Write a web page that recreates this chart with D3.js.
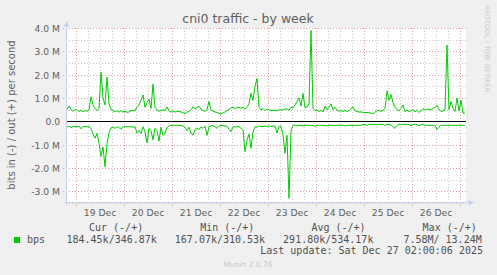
<!DOCTYPE html>
<html>
<head>
<meta charset="utf-8">
<script src="https://cdn.jsdelivr.net/npm/d3@7"></script>
<style>
	body { margin: 0; background: #F0F0F0; }
	svg { display: block; }
	text { font-family: "DejaVu Sans", sans-serif; fill: #606060; }
	.mono { font-family: "DejaVu Sans Mono", monospace; fill: #505050; font-size: 10px; white-space: pre; }
</style>
</head>
<body>
<svg id="chart" width="497" height="275"></svg>
<script>
// hourly samples, Mbit/s, first one at Dec 18 19:00
var startTime = Date.UTC(2025, 11, 18, 19);
var outBps = [
	0.51, 0.66, 0.51, 0.43, 0.49, 0.5, 0.41, 0.49, 0.4, 0.46,
	0.43, 0.49, 1.05, 0.7, 0.56, 0.45, 0.55, 2.1, 1.0, 0.7,
	1.9, 0.75, 0.51, 0.46, 0.4, 0.46, 0.39, 0.46, 0.4, 0.43,
	0.39, 0.4, 0.46, 0.46, 0.47, 0.6, 0.7, 0.9, 1.13, 0.6,
	0.8, 0.95, 0.55, 1.6, 0.6, 0.48, 0.44, 0.46, 0.5, 0.46,
	0.62, 0.45, 0.4, 0.44, 0.4, 0.42, 0.43, 0.4, 0.37, 0.32,
	0.4, 0.42, 0.5, 0.62, 0.55, 0.58, 0.65, 0.52, 0.46, 0.43,
	0.5, 0.85, 0.48, 0.43, 0.4, 0.38, 0.34, 0.31, 0.36, 0.4,
	0.46, 0.5, 0.58, 0.6, 0.55, 0.58, 0.6, 0.56, 0.6, 0.52,
	0.62, 0.75, 1.2, 0.9, 1.5, 1.84, 0.6, 0.48, 0.55, 0.46,
	0.52, 0.5, 0.46, 0.48, 0.46, 0.45, 0.5, 0.48, 0.5, 0.52,
	0.54, 0.48, 0.6, 0.57, 0.7, 0.85, 1.0, 0.65, 1.2, 0.58,
	0.62, 0.75, 3.9, 0.55, 0.47, 0.48, 0.42, 0.47, 0.4, 0.65,
	0.5, 0.6, 0.75, 0.5, 0.6, 0.48, 0.43, 0.46, 0.42, 0.47,
	0.42, 0.46, 0.55, 0.62, 0.46, 0.42, 0.4, 0.4, 0.39, 0.37,
	0.38, 0.37, 0.35, 0.32, 0.4, 0.45, 0.48, 0.42, 0.48, 0.55,
	1.3, 0.9, 1.15, 0.8, 0.6, 0.5, 0.45, 0.55, 0.7, 0.42,
	0.48, 0.42, 0.46, 0.5, 0.4, 0.47, 0.38, 0.45, 0.55, 0.48,
	0.54, 0.51, 0.48, 0.56, 0.6, 0.68, 0.52, 0.42, 0.45, 0.48,
	3.27, 0.5, 0.85, 0.55, 0.42, 1.0, 0.45, 0.9, 0.35, 0.35
];
var inBps = [
	-0.25, -0.2, -0.27, -0.22, -0.23, -0.23, -0.2, -0.32, -0.22, -0.23,
	-0.23, -0.23, -0.3, -0.55, -0.72, -0.52, -0.95, -1.5, -1.1, -1.94,
	-0.95, -0.5, -0.28, -0.24, -0.3, -0.23, -0.26, -0.35, -0.23, -0.23,
	-0.23, -0.23, -0.24, -0.25, -0.23, -0.5, -0.38, -0.52, -0.23, -0.45,
	-0.92, -0.3, -0.4, -0.8, -0.3, -0.4, -0.85, -0.26, -0.6, -0.5,
	-0.28, -0.2, -0.17, -0.17, -0.17, -0.17, -0.17, -0.17, -0.2, -0.25,
	-0.4, -0.25, -0.5, -0.6, -0.35, -0.3, -0.35, -0.24, -0.3, -0.2,
	-0.6, -0.23, -0.2, -0.18, -0.23, -0.3, -0.2, -0.17, -0.18, -0.2,
	-0.2, -0.35, -0.45, -0.23, -0.25, -0.22, -0.23, -0.3, -0.38, -1.3,
	-0.8, -0.55, -1.15, -0.45, -0.23, -0.25, -0.2, -0.22, -0.23, -0.2,
	-0.22, -0.2, -0.23, -0.2, -0.2, -0.5, -0.22, -0.2, -0.6, -1.37,
	-0.6, -3.3, -0.4, -0.18, -0.17, -0.17, -0.18, -0.17, -0.2, -0.17,
	-0.17, -0.17, -0.18, -0.17, -0.22, -0.17, -0.17, -0.17, -0.18, -0.17,
	-0.2, -0.17, -0.17, -0.17, -0.18, -0.17, -0.17, -0.17, -0.17, -0.2,
	-0.17, -0.17, -0.17, -0.18, -0.17, -0.17, -0.17, -0.17, -0.13, -0.13,
	-0.18, -0.13, -0.13, -0.13, -0.13, -0.15, -0.13, -0.13, -0.13, -0.17,
	-0.13, -0.13, -0.15, -0.24, -0.3, -0.17, -0.13, -0.13, -0.13, -0.13,
	-0.13, -0.13, -0.2, -0.13, -0.13, -0.13, -0.2, -0.13, -0.13, -0.17,
	-0.17, -0.17, -0.17, -0.17, -0.18, -0.35, -0.25, -0.17, -0.17, -0.17,
	-0.17, -0.17, -0.17, -0.17, -0.17, -0.17, -0.17, -0.17, -0.17, -0.17
];
var yTicks = [-3, -2, -1, 0, 1, 2, 3, 4];
var legendHeads = ["Cur (-/+)", "Min (-/+)", "Avg (-/+)", "Max (-/+)"];
var legendVals = ["184.45k/346.87k", "167.07k/310.53k", "291.80k/534.17k", "  7.58M/ 13.24M"];
var lastUpdate = "Last update: Sat Dec 27 02:00:06 2025";

var lineColor = "#00CC00";
var svg = d3.select("#chart");

var x = d3.scaleUtc()
	.domain([Date.UTC(2025, 11, 18, 18, 30), Date.UTC(2025, 11, 27, 2, 30)])
	.range([66, 466]);
var y = d3.scaleLinear()
	.domain([-3.5, 4.0])
	.range([203, 28]);

function px(v){ return Math.round(v) + 0.5; }

// canvas
svg.append("rect")
	.attr("x", 66).attr("y", 28)
	.attr("width", 400).attr("height", 175)
	.style("fill", "#FFFFFF");

var grid = svg.append("g").attr("id", "grid");

//minor grid
var minorX = d3.utcHour.every(6).range(x.domain()[0], x.domain()[1]);
grid.selectAll(".vminor")
	.data(minorX.filter(function(d){ return d.getUTCHours() != 0; }))
.enter().append("line")
	.attr("x1", function(d){ return px(x(d)) - 1; })
	.attr("x2", function(d){ return px(x(d)) - 1; })
	.attr("y1", 28).attr("y2", 203)
	.style("stroke", "#C8C8C8")
	.style("stroke-dasharray", "1,2");
grid.selectAll(".hminor")
	.data(d3.range(-3.5, 4.01, 1))
.enter().append("line")
	.attr("x1", 66).attr("x2", 466)
	.attr("y1", function(d){ return px(y(d)); })
	.attr("y2", function(d){ return px(y(d)); })
	.style("stroke", "#C8C8C8")
	.style("stroke-dasharray", "1,2");

//major grid
var days = d3.utcDay.range(x.domain()[0], x.domain()[1]);
grid.selectAll(".vmajor")
	.data(days)
.enter().append("line")
	.attr("x1", function(d){ return px(x(d)) - 1; })
	.attr("x2", function(d){ return px(x(d)) - 1; })
	.attr("y1", 28).attr("y2", 206)
	.style("stroke", "#E0A0A0")
	.style("stroke-dasharray", "1,2");
grid.selectAll(".hmajor")
	.data(yTicks.filter(function(d){ return d != 0; }))
.enter().append("line")
	.attr("x1", 63).attr("x2", 466)
	.attr("y1", function(d){ return px(y(d)); })
	.attr("y2", function(d){ return px(y(d)); })
	.style("stroke", "#E0A0A0")
	.style("stroke-dasharray", "1,2");

//lines
var line = d3.line()
	.x(function(d, i){ return x(new Date(startTime + i * 3600000)); })
	.y(function(d){ return y(d); });

svg.append("path")
	.datum(inBps)
	.attr("d", line)
	.style("fill", "none")
	.style("stroke", lineColor)
	.style("stroke-width", 1);
svg.append("path")
	.datum(outBps)
	.attr("d", line)
	.style("fill", "none")
	.style("stroke", lineColor)
	.style("stroke-width", 1);

// zero rule
svg.append("line")
	.attr("x1", 66).attr("x2", 466)
	.attr("y1", px(y(0))).attr("y2", px(y(0)))
	.style("stroke", "#000000");

//axes + arrows
var axisColor = "#C8D0F0";
svg.append("line")
	.attr("x1", 66.5).attr("x2", 66.5)
	.attr("y1", 205).attr("y2", 24)
	.style("stroke", axisColor);
svg.append("line")
	.attr("x1", 64).attr("x2", 470)
	.attr("y1", 202.5).attr("y2", 202.5)
	.style("stroke", axisColor);
svg.append("path")
	.attr("d", "M63.5,26.5L69.5,26.5L66.5,21Z")
	.style("fill", axisColor);
svg.append("path")
	.attr("d", "M468.5,199.5L468.5,205.5L474,202.5Z")
	.style("fill", axisColor);

// tick labels
svg.selectAll(".ylab")
	.data(yTicks)
.enter().append("text")
	.attr("x", 60)
	.attr("y", function(d){ return px(y(d)) + 3; })
	.attr("text-anchor", "end")
	.style("font-size", "9.2px")
	.text(function(d){ return d == 0 ? "0.0" : d.toFixed(1) + " M"; });

// day labels sit at noon, only where noon is on the canvas
var fmtDay = d3.utcFormat("%-d %b");
var noons = days.map(function(d){ return d3.utcHour.offset(d, 12); })
	.filter(function(d){ return d < x.domain()[1]; });
svg.selectAll(".xlab")
	.data(noons)
.enter().append("text")
	.attr("x", function(d){ return x(d) - 1; })
	.attr("y", 216)
	.attr("text-anchor", "middle")
	.style("font-size", "9.2px")
	.text(function(d){ return fmtDay(d); });

// titles
svg.append("text")
	.attr("x", 248).attr("y", 23)
	.attr("text-anchor", "middle")
	.style("font-size", "12.5px")
	.text("cni0 traffic - by week");
svg.append("text")
	.attr("transform", "translate(15,115) rotate(-90)")
	.attr("text-anchor", "middle")
	.style("font-size", "10px")
	.text("bits in (-) / out (+) per second");
svg.append("text")
	.attr("transform", "translate(485,5) rotate(90)")
	.style("font-size", "6.8px")
	.style("fill", "#C8C8C8")
	.text("RRDTOOL / TOBI OETIKER");

//legend
svg.selectAll(".lhead")
	.data(legendHeads)
.enter().append("text")
	.attr("class", "mono")
	.attr("x", function(d, i){ return 89 + i * 111.2; })
	.attr("y", 231)
	.text(function(d){ return d; });
svg.append("rect")
	.attr("x", 14).attr("y", 237)
	.attr("width", 6).attr("height", 6)
	.style("fill", lineColor);
svg.append("text")
	.attr("class", "mono")
	.attr("x", 27).attr("y", 242.5)
	.text("bps");
svg.selectAll(".lval")
	.data(legendVals)
.enter().append("text")
	.attr("class", "mono")
	.attr("x", function(d, i){ return 66.5 + i * 108.3; })
	.attr("y", 242.5)
	.text(function(d){ return d; });
svg.append("text")
	.attr("class", "mono")
	.attr("x", 483).attr("y", 253.5)
	.attr("text-anchor", "end")
	.text(lastUpdate);
svg.append("text")
	.attr("x", 248).attr("y", 267)
	.attr("text-anchor", "middle")
	.style("font-size", "7.5px")
	.style("fill", "#C8C8C8")
	.text("Munin 2.0.76");
</script>
</body>
</html>
